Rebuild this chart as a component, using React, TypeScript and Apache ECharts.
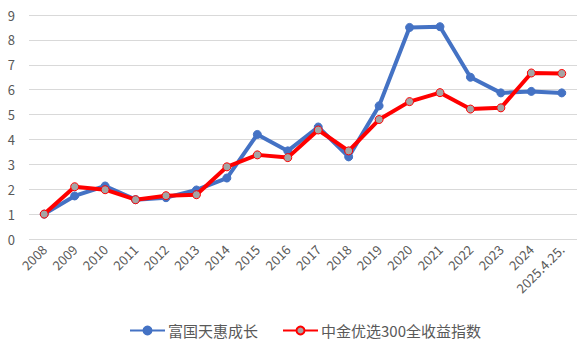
import React, { useEffect, useRef } from "react";
import * as echarts from "echarts";

const categories = ["2008","2009","2010","2011","2012","2013","2014","2015","2016","2017","2018","2019","2020","2021","2022","2023","2024","2025.4.25."];
const fundName = "富国天惠成长";
const indexName = "中金优选300全收益指数";
const fundValues = [1.0, 1.73, 2.13, 1.58, 1.66, 1.97, 2.45, 4.2, 3.54, 4.5, 3.3, 5.35, 8.5, 8.53, 6.5, 5.87, 5.93, 5.87];
const indexValues = [1.0, 2.1, 1.98, 1.58, 1.74, 1.78, 2.9, 3.38, 3.27, 4.38, 3.54, 4.8, 5.52, 5.88, 5.22, 5.27, 6.67, 6.65];
const yTicks = [0, 1, 2, 3, 4, 5, 6, 7, 8, 9];

export default function App() {
  const ref = useRef<HTMLDivElement>(null);
  useEffect(() => {
    const chart = echarts.init(ref.current!, null, { renderer: "svg" });
    const font = "'Noto Sans CJK SC', 'Noto Sans', sans-serif";
    chart.setOption({
      animation: false,
      textStyle: { fontFamily: font },
      grid: { left: 29, right: 11, top: 15, bottom: 115, containLabel: false },
      legend: {
        bottom: 11,
        left: 124,
        itemWidth: 35,
        itemHeight: 10,
        itemGap: 24,
        textStyle: { color: "#595959", fontSize: 15, fontFamily: font, padding: [0, 0, 0, -2] },
        data: [fundName, indexName],
      },
      xAxis: {
        type: "category",
        data: categories,
        boundaryGap: true,
        axisLine: { show: false },
        axisTick: { show: false },
        axisLabel: { rotate: 45, color: "#595959", fontSize: 13, margin: 8, interval: 0, fontFamily: font },
      },
      yAxis: {
        type: "value",
        min: yTicks[0],
        max: yTicks[yTicks.length - 1],
        interval: 1,
        axisLabel: { color: "#595959", fontSize: 13, margin: 14, fontFamily: font },
        splitLine: { lineStyle: { color: "#D9D9D9", width: 1 } },
        axisLine: { show: false },
        axisTick: { show: false },
      },
      series: [
        {
          name: fundName,
          type: "line",
          data: fundValues,
          symbol: "circle",
          symbolSize: 8,
          lineStyle: { color: "#4472C4", width: 4 },
          itemStyle: { color: "#4472C4", borderColor: "#4472C4", borderWidth: 1 },
          z: 2,
        },
        {
          name: indexName,
          type: "line",
          data: indexValues,
          symbol: "circle",
          symbolSize: 8,
          lineStyle: { color: "#FF0000", width: 4 },
          itemStyle: { color: "#A5A5A5", borderColor: "#FF0000", borderWidth: 1 },
          z: 3,
        },
      ],
    });
    return () => chart.dispose();
  }, []);
  return <div ref={ref} style={{ width: 588, height: 354, position: "absolute", left: 0, top: 0 }} />;
}
